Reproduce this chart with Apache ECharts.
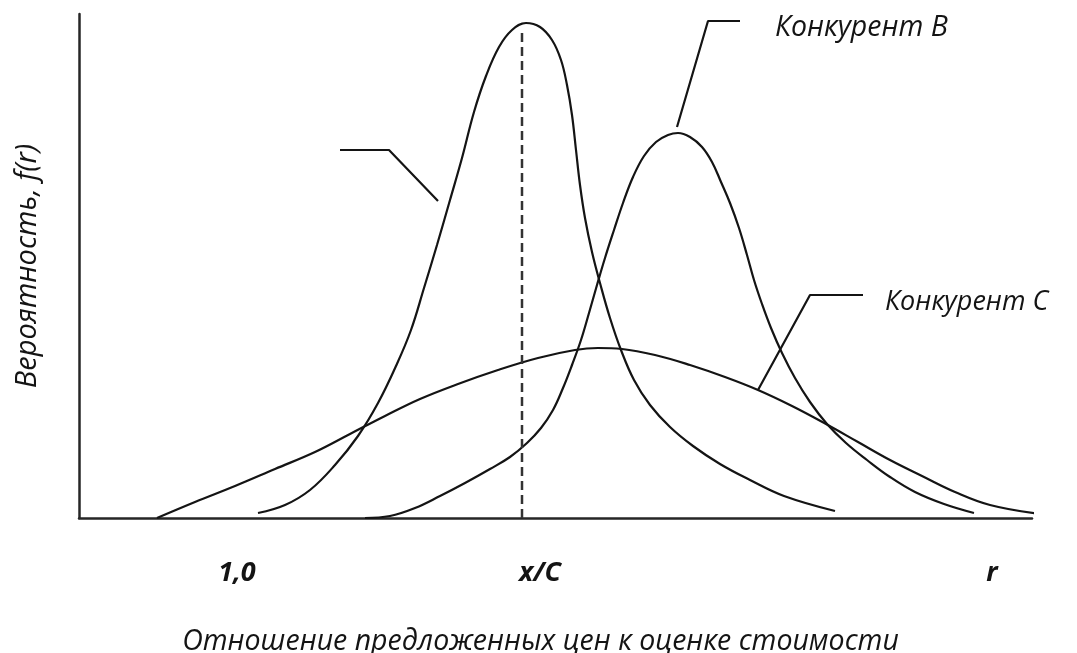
<!DOCTYPE html>
<html>
<head>
<meta charset="utf-8">
<script src="https://cdn.jsdelivr.net/npm/echarts@6.0.0/dist/echarts.min.js"></script>
<style>
  html, body { margin: 0; padding: 0; background: #fff; }
  #chart { width: 1077px; height: 653px; }
</style>
</head>
<body>
<div id="chart"></div>
<script>
// значения (условные единицы по осям)
const competitorA = [
  [179, 5], [206, 13], [231, 28], [256, 53], [279, 82], [299, 115], [317, 152],
  [332, 188], [345, 230], [358, 273], [371, 318], [383, 360], [395, 406],
  [407, 442], [420, 471], [433, 488], [447, 495], [461, 491], [473, 478],
  [482, 458], [488, 433], [493, 403], [497, 368], [501, 333], [506, 300],
  [513, 266], [521, 235], [531, 200], [542, 168], [555, 138], [571, 113],
  [591, 91], [614, 72], [641, 54], [671, 38], [705, 22], [756, 7]
]
const competitorB = [
  [286, 0], [311, 2], [336, 10], [361, 22], [386, 35], [411, 49], [431, 61],
  [448, 75], [462, 90], [474, 108], [484, 130], [493, 153], [502, 178],
  [510, 205], [518, 233], [526, 260], [535, 288], [544, 315], [554, 341],
  [565, 362], [577, 376], [589, 383], [599, 385], [611, 381], [623, 371],
  [633, 356], [642, 336], [651, 315], [660, 290], [668, 263], [675, 238],
  [683, 214], [692, 190], [703, 165], [716, 140], [731, 116], [748, 94],
  [767, 75], [788, 58], [811, 41], [836, 26], [865, 14], [895, 5]
]
const competitorC = [
  [78, 0], [116, 16], [156, 32], [196, 49], [236, 66], [271, 84], [306, 102],
  [341, 119], [379, 134], [419, 148], [459, 160], [496, 168], [519, 170],
  [543, 169], [576, 163], [611, 153], [646, 141], [679, 128], [713, 112],
  [747, 94], [779, 76], [811, 58], [843, 42], [876, 26], [911, 13], [961, 4]
]
// пунктир x/C
const ownLine = [[443, 0], [443, 485]]

// выноски
const leaderA = [[359, 317], [310, 368], [261, 368]]
const leaderB = [[598, 391], [629, 497], [661, 497]]
const leaderC = [[679, 128], [731, 223], [784, 223]]

const tickValues = [158, 461, 913]
const tickLabels = ['1,0', 'x/C', 'r']

const font = '"Open Sans", "DejaVu Sans", sans-serif'
const ink = '#141414'

let curve = (data) => ({
  type: 'line',
  data: data,
  smooth: 0.4,
  symbol: 'none',
  clip: false,
  silent: true,
  lineStyle: { color: ink, width: 2.2 }
})

let leader = (data, text, dist, size) => ({
  type: 'line',
  data: data,
  symbol: 'none',
  silent: true,
  lineStyle: { color: ink, width: 2.2 },
  endLabel: {
    show: !!text,
    formatter: text || '',
    distance: dist,
    offset: [0, 7],
    color: ink,
    fontFamily: font,
    fontStyle: 'italic',
    fontSize: size
  }
})

let option = {
  animation: false,
  grid: {
    left: 79,
    right: 45,
    top: 14,
    bottom: 135,
    outerBoundsMode: 'none'
  },
  xAxis: {
    type: 'value',
    min: 0,
    max: 953,
    name: 'Отношение предложенных цен к оценке стоимости',
    nameLocation: 'middle',
    nameGap: 109,
    nameTextStyle: {
      color: ink,
      fontFamily: font,
      fontStyle: 'italic',
      fontSize: 28.5,
      padding: [0, 30, 0, 0]
    },
    axisLine: { lineStyle: { color: '#262626', width: 2.5 } },
    axisTick: { show: false },
    splitLine: { show: false },
    axisLabel: {
      customValues: tickValues,
      formatter: (v) => tickLabels[tickValues.indexOf(v)],
      margin: 42,
      color: ink,
      fontFamily: font,
      fontStyle: 'italic',
      fontWeight: 'bold',
      fontSize: 27
    }
  },
  yAxis: {
    type: 'value',
    min: 0,
    max: 504,
    name: 'Вероятность, f(r)',
    nameLocation: 'middle',
    nameGap: 37,
    nameTextStyle: {
      color: ink,
      fontFamily: font,
      fontStyle: 'italic',
      fontSize: 29
    },
    axisLine: { show: true, lineStyle: { color: '#262626', width: 2.5 } },
    axisTick: { show: false },
    axisLabel: { show: false },
    splitLine: { show: false }
  },
  series: [
    curve(competitorA),
    curve(competitorB),
    curve(competitorC),
    {
      type: 'line',
      data: ownLine,
      symbol: 'none',
      silent: true,
      lineStyle: { color: '#333', width: 2.5, type: [9, 5] }
    },
    leader(leaderA, null, 0, 28),
    leader(leaderB, 'Конкурент В', 35, 28.5),
    leader(leaderC, 'Конкурент С', 22, 27)
  ]
}

let chart = echarts.init(document.getElementById('chart'))
chart.setOption(option, true)
</script>
</body>
</html>
